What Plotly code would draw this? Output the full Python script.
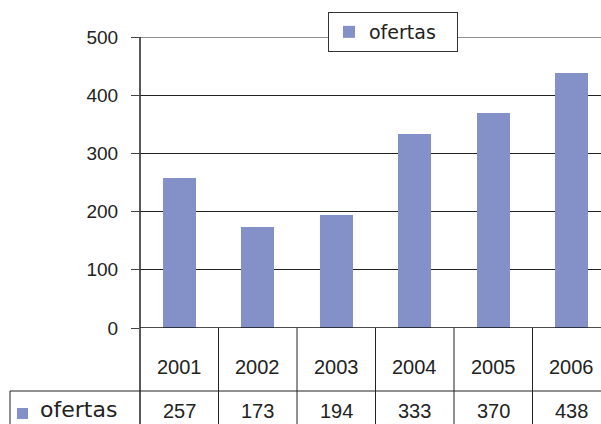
import plotly.graph_objects as go

years = ["2001", "2002", "2003", "2004", "2005", "2006"]
ofertas = [257, 173, 194, 333, 370, 438]
series_name = "ofertas"
y_ticks = [0, 100, 200, 300, 400, 500]

BAR = "#8490C8"
INK = "#222222"
W, H = 601, 424
ML, MR, MT, MB = 140, 0, 37, 96
PW, PH = W - ML - MR, H - MT - MB
COLW = 78.5
xmin = -0.5
xmax = xmin + PW / COLW

def px_x(p):
    return (p - ML) / PW

def px_y(p):
    return (MT + PH - p) / PH

xs = list(range(len(years)))

fig = go.Figure()
fig.add_trace(go.Bar(
    x=xs, y=ofertas, name=series_name, marker=dict(color=BAR, line=dict(width=0)),
    width=0.42, showlegend=True,
))

fig.update_layout(
    width=W, height=H,
    margin=dict(l=ML, r=MR, t=MT, b=MB, pad=0),
    paper_bgcolor="white", plot_bgcolor="white",
    font=dict(family="Liberation Sans, Arial, sans-serif", color=INK, size=19),
    showlegend=True,
    legend=dict(
        orientation="h",
        x=px_x(328), y=px_y(12), xanchor="left", yanchor="top",
        bgcolor="white", bordercolor="#333333", borderwidth=1,
        font=dict(size=19, family="DejaVu Sans, sans-serif", color=INK),
        itemwidth=30, entrywidth=83, entrywidthmode="pixels",
    ),
    bargap=0,
)
fig.update_xaxes(
    range=[xmin, xmax], showticklabels=False, showgrid=False, zeroline=False,
    showline=False, ticks="",
)
fig.update_yaxes(
    range=[0, 500], tickvals=y_ticks, ticktext=[str(v) for v in y_ticks],
    showgrid=True, gridcolor="#222222", gridwidth=1, zeroline=False,
    showline=False, ticks="outside", ticklen=8, tickcolor="#444444",
    tickfont=dict(size=19, color=INK), ticklabelstandoff=9,
)

shapes = []
line_style = dict(color="#222222", width=1)
shapes.append(dict(type="line", xref="paper", yref="y", x0=0, x1=1, y0=y_ticks[-1], y1=y_ticks[-1],
                   line=line_style, layer="below"))
shapes.append(dict(type="line", xref="paper", yref="y", x0=0, x1=1, y0=0, y1=0,
                   line=dict(color="#111111", width=1.5)))
shapes.append(dict(type="line", xref="paper", yref="paper", x0=0, x1=0,
                   y0=px_y(H + 2), y1=1, line=dict(color="#222222", width=1.5)))
for i in range(len(years) - 1):
    shapes.append(dict(type="line", xref="x", yref="paper", x0=i + 0.5, x1=i + 0.5,
                       y0=px_y(H + 2), y1=0, line=line_style))
shapes.append(dict(type="line", xref="paper", yref="paper", x0=px_x(10), x1=1,
                   y0=px_y(391), y1=px_y(391), line=line_style))
shapes.append(dict(type="line", xref="paper", yref="paper", x0=px_x(10), x1=px_x(10),
                   y0=px_y(H + 2), y1=px_y(391), line=line_style))
shapes.append(dict(type="rect", xref="paper", yref="paper", x0=px_x(17), x1=px_x(28),
                   y0=px_y(419), y1=px_y(408), fillcolor=BAR, line=dict(width=0)))

annotations = []
for i, (yr, v) in enumerate(zip(years, ofertas)):
    annotations.append(dict(x=i, y=px_y(367), xref="x", yref="paper", text=yr,
                            showarrow=False, xanchor="center", yanchor="middle",
                            font=dict(size=20, color=INK)))
    annotations.append(dict(x=i, y=px_y(411), xref="x", yref="paper", text=str(v),
                            showarrow=False, xanchor="center", yanchor="middle",
                            font=dict(size=20, color=INK)))
annotations.append(dict(x=px_x(38), y=px_y(410), xref="paper", yref="paper",
                        text=series_name, showarrow=False, xanchor="left", yanchor="middle",
                        font=dict(size=22, family="DejaVu Sans, sans-serif", color=INK)))

fig.update_layout(shapes=shapes, annotations=annotations)
fig.write_html(
    "out.html",
    config={"displayModeBar": False},
    post_script="document.body.style.margin='0';document.body.style.overflow='hidden';",
)
